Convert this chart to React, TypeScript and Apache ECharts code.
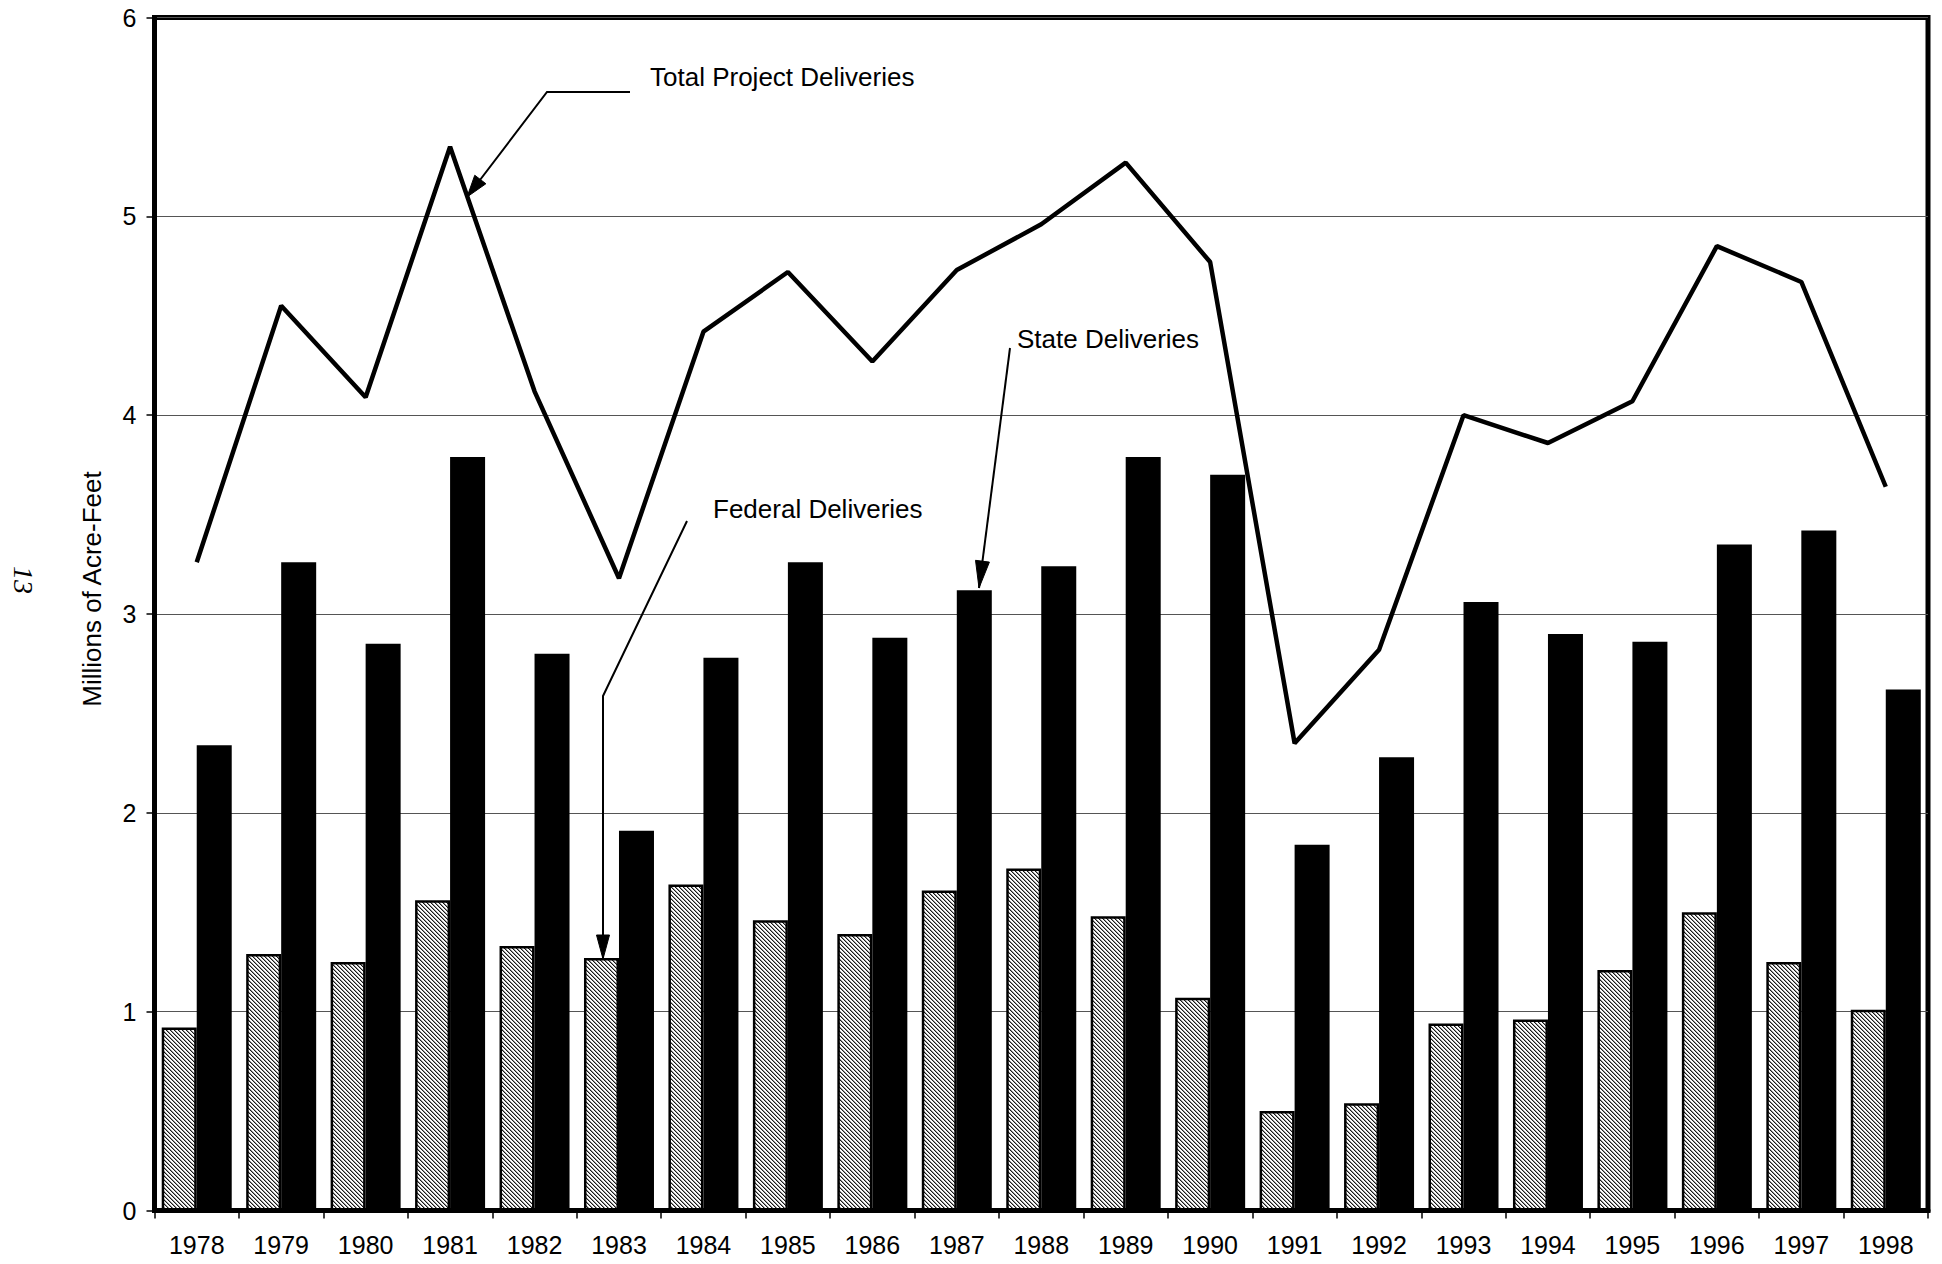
import React, { useEffect, useRef } from 'react';
import * as echarts from 'echarts';

const years = ['1978', '1979', '1980', '1981', '1982', '1983', '1984', '1985', '1986', '1987', '1988', '1989', '1990', '1991', '1992', '1993', '1994', '1995', '1996', '1997', '1998'];
const federalDeliveries = [0.92, 1.29, 1.25, 1.56, 1.33, 1.27, 1.64, 1.46, 1.39, 1.61, 1.72, 1.48, 1.07, 0.50, 0.54, 0.94, 0.96, 1.21, 1.50, 1.25, 1.01];
const stateDeliveries = [2.34, 3.26, 2.85, 3.79, 2.80, 1.91, 2.78, 3.26, 2.88, 3.12, 3.24, 3.79, 3.70, 1.84, 2.28, 3.06, 2.90, 2.86, 3.35, 3.42, 2.62];
const totalDeliveries = [3.26, 4.55, 4.09, 5.35, 4.12, 3.18, 4.42, 4.72, 4.27, 4.73, 4.96, 5.27, 4.77, 2.35, 2.82, 4.00, 3.86, 4.07, 4.85, 4.67, 3.64];

const FONT = '"Liberation Sans", Arial, sans-serif';

function makeHatch(): HTMLCanvasElement {
  const c = document.createElement('canvas');
  c.width = 4;
  c.height = 4;
  const ctx = c.getContext('2d')!;
  const img = ctx.createImageData(4, 4);
  const shades = [25, 150, 255, 245];
  for (let y = 0; y < 4; y++) {
    for (let x = 0; x < 4; x++) {
      const d = (((x - y) % 4) + 4) % 4;
      const v = shades[d];
      const i = (y * 4 + x) * 4;
      img.data[i] = v;
      img.data[i + 1] = v;
      img.data[i + 2] = v;
      img.data[i + 3] = 255;
    }
  }
  ctx.putImageData(img, 0, 0);
  return c;
}

function arrowHead(fx: number, fy: number, tx: number, ty: number, len: number, w: number) {
  const dx = tx - fx;
  const dy = ty - fy;
  const L = Math.hypot(dx, dy);
  const ux = dx / L;
  const uy = dy / L;
  const bx = tx - ux * len;
  const by = ty - uy * len;
  const nx = -uy;
  const ny = ux;
  return [
    [tx, ty],
    [bx + (nx * w) / 2, by + (ny * w) / 2],
    [bx - (nx * w) / 2, by - (ny * w) / 2],
  ];
}

function annotation(text: string, tx: number, ty: number, pts: number[][], len: number, w: number) {
  const n = pts.length;
  const from = pts[n - 2];
  const tip = pts[n - 1];
  return [
    {
      type: 'text',
      x: tx,
      y: ty,
      z: 20,
      style: { text, fill: '#000', font: `26px ${FONT}`, textAlign: 'left', textVerticalAlign: 'middle' },
    },
    {
      type: 'polyline',
      z: 20,
      shape: { points: pts },
      style: { stroke: '#000', lineWidth: 2, fill: null },
    },
    {
      type: 'polygon',
      z: 21,
      shape: { points: arrowHead(from[0], from[1], tip[0], tip[1], len, w) },
      style: { fill: '#000', stroke: '#000', lineWidth: 1 },
    },
  ];
}

export default function App() {
  const ref = useRef<HTMLDivElement>(null);

  useEffect(() => {
    if (!ref.current) return;
    const chart = echarts.init(ref.current, undefined, { renderer: 'svg' });
    const hatch = makeHatch();

    const option: any = {
      animation: false,
      backgroundColor: '#fff',
      grid: {
        left: 154.5,
        right: 14,
        top: 17.5,
        bottom: 53.5,
        show: true,
        borderColor: '#000',
        borderWidth: 5,
        backgroundColor: 'transparent',
      },
      xAxis: {
        type: 'category',
        data: years,
        boundaryGap: true,
        axisLine: { show: true, lineStyle: { color: '#000', width: 5 } },
        axisTick: { show: true, length: 8, lineStyle: { color: '#000', width: 1.5 } },
        axisLabel: { color: '#000', fontSize: 25, fontFamily: FONT, margin: 22 },
        splitLine: { show: false },
      },
      yAxis: {
        type: 'value',
        min: 0,
        max: 6,
        interval: 1,
        axisLine: { show: true, lineStyle: { color: '#000', width: 5 } },
        axisTick: { show: true, length: 8, lineStyle: { color: '#000', width: 1.5 } },
        axisLabel: { color: '#000', fontSize: 25, fontFamily: FONT, margin: 18 },
        splitLine: { show: true, lineStyle: { color: '#555', width: 1.2 } },
      },
      series: [
        {
          name: 'Federal Deliveries',
          type: 'bar',
          data: federalDeliveries,
          barWidth: 35,
          barGap: '0%',
          itemStyle: {
            color: { image: hatch, repeat: 'repeat' },
            borderColor: '#000',
            borderWidth: 2.5,
          },
          z: 2,
        },
        {
          name: 'State Deliveries',
          type: 'bar',
          data: stateDeliveries,
          barWidth: 35,
          barGap: '0%',
          itemStyle: { color: '#000' },
          z: 2,
        },
        {
          name: 'Total Project Deliveries',
          type: 'line',
          data: totalDeliveries,
          symbol: 'none',
          lineStyle: { color: '#000', width: 4.5 },
          z: 5,
        },
      ],
      graphic: [
        {
          type: 'text',
          x: 92,
          y: 589,
          rotation: Math.PI / 2,
          style: {
            text: 'Millions of Acre-Feet',
            fill: '#000',
            font: `26px ${FONT}`,
            textAlign: 'center',
            textVerticalAlign: 'middle',
          },
        },
        {
          type: 'text',
          x: 23,
          y: 580,
          rotation: -Math.PI / 2,
          style: {
            text: '13',
            fill: '#000',
            font: 'italic 28px "Liberation Serif", "Times New Roman", serif',
            textAlign: 'center',
            textVerticalAlign: 'middle',
          },
        },
        ...annotation('Total Project Deliveries', 650, 77, [[630, 92], [547, 92], [467, 197]], 22, 14),
        ...annotation('Federal Deliveries', 713, 509, [[687, 521], [603, 696], [603, 959]], 24, 13),
        ...annotation('State Deliveries', 1017, 339, [[1010, 348], [979, 588]], 27, 14),
      ],
    };

    chart.setOption(option);
    return () => {
      chart.dispose();
    };
  }, []);

  return (
    <div
      ref={ref}
      style={{ position: 'fixed', left: 0, top: 0, width: '1942px', height: '1264px', background: '#fff' }}
    />
  );
}
